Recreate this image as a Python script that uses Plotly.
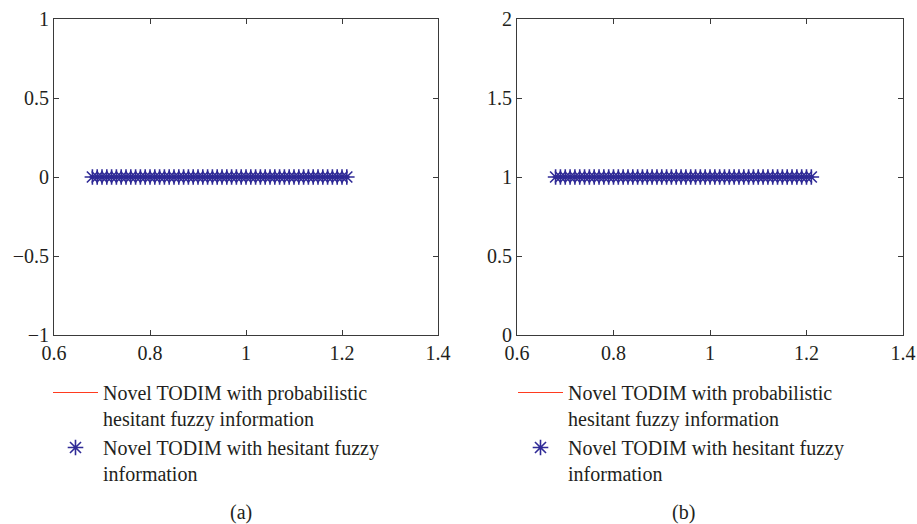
import plotly.graph_objects as go

# Alternatives' scores (x) and the resulting rankings (y) for both methods
x_scores = [0.68, 0.69, 0.70, 0.71, 0.72, 0.73, 0.74, 0.75, 0.76, 0.77,
            0.78, 0.79, 0.80, 0.81, 0.82, 0.83, 0.84, 0.85, 0.86, 0.87,
            0.88, 0.89, 0.90, 0.91, 0.92, 0.93, 0.94, 0.95, 0.96, 0.97,
            0.98, 0.99, 1.00, 1.01, 1.02, 1.03, 1.04, 1.05, 1.06, 1.07,
            1.08, 1.09, 1.10, 1.11, 1.12, 1.13, 1.14, 1.15, 1.16, 1.17,
            1.18, 1.19, 1.20, 1.21]
y_panel_a = [0, 0, 0, 0, 0, 0, 0, 0, 0, 0, 0, 0, 0, 0, 0, 0, 0, 0,
             0, 0, 0, 0, 0, 0, 0, 0, 0, 0, 0, 0, 0, 0, 0, 0, 0, 0,
             0, 0, 0, 0, 0, 0, 0, 0, 0, 0, 0, 0, 0, 0, 0, 0, 0, 0]
y_panel_b = [1, 1, 1, 1, 1, 1, 1, 1, 1, 1, 1, 1, 1, 1, 1, 1, 1, 1,
             1, 1, 1, 1, 1, 1, 1, 1, 1, 1, 1, 1, 1, 1, 1, 1, 1, 1,
             1, 1, 1, 1, 1, 1, 1, 1, 1, 1, 1, 1, 1, 1, 1, 1, 1, 1]

x_ticks = [0.6, 0.8, 1.0, 1.2, 1.4]
x_tick_text = ["0.6", "0.8", "1", "1.2", "1.4"]
y_ticks_a = [-1, -0.5, 0, 0.5, 1]
y_tick_text_a = ["\u22121", "\u22120.5", "0", "0.5", "1"]
y_ticks_b = [0, 0.5, 1, 1.5, 2]
y_tick_text_b = ["0", "0.5", "1", "1.5", "2"]

name_line = "Novel TODIM with probabilistic<br>hesitant fuzzy information"
name_star = "Novel TODIM with hesitant fuzzy<br>information"

LINE_RED = "#ff3b1f"
STAR_BLUE = "#2f2a96"
TEXT = "#231f20"
AXIS = "#3a3a3a"
FONT = "Liberation Serif"

W, H = 917, 524

fig = go.Figure()

for xa, ya, yvals, leg in [("x", "y", y_panel_a, "legend"),
                           ("x2", "y2", y_panel_b, "legend2")]:
    fig.add_trace(go.Scatter(
        x=x_scores, y=yvals, xaxis=xa, yaxis=ya, mode="lines",
        line=dict(color=LINE_RED, width=1), name=name_line, legend=leg))
    fig.add_trace(go.Scatter(
        x=x_scores, y=yvals, xaxis=xa, yaxis=ya, mode="markers",
        marker=dict(symbol="asterisk-open", size=13, color=STAR_BLUE,
                    line=dict(color=STAR_BLUE, width=1.6)),
        name=name_star, legend=leg))

axis_common = dict(
    showline=True, linecolor=AXIS, linewidth=1, mirror="ticks",
    ticks="inside", ticklen=5, tickcolor=AXIS, tickwidth=1,
    showgrid=False, zeroline=False,
    tickfont=dict(family=FONT, size=20, color=TEXT),
)

y_dom = [1 - 335 / H, 1 - 19 / H]
legend_font = dict(family=FONT, size=20, color=TEXT)

fig.update_layout(
    width=W, height=H,
    margin=dict(l=0, r=0, t=0, b=0, autoexpand=False),
    paper_bgcolor="white", plot_bgcolor="white",
    showlegend=True,
    xaxis=dict(domain=[54 / W, 438 / W], range=[0.6, 1.4],
               tickvals=x_ticks, ticktext=x_tick_text, anchor="y",
               **axis_common),
    yaxis=dict(domain=y_dom, range=[-1, 1], tickvals=y_ticks_a,
               ticktext=y_tick_text_a, anchor="x", **axis_common),
    xaxis2=dict(domain=[517 / W, 903 / W], range=[0.6, 1.4],
                tickvals=x_ticks, ticktext=x_tick_text, anchor="y2",
                **axis_common),
    yaxis2=dict(domain=y_dom, range=[0, 2], tickvals=y_ticks_b,
                ticktext=y_tick_text_b, anchor="x2", **axis_common),
    legend=dict(x=48 / W, y=1 - 373 / H, xanchor="left", yanchor="top",
                valign="top", font=legend_font,
                bgcolor="rgba(0,0,0,0)", tracegroupgap=0, itemwidth=45),
    legend2=dict(x=513 / W, y=1 - 373 / H, xanchor="left", yanchor="top",
                 valign="top", font=legend_font,
                 bgcolor="rgba(0,0,0,0)", tracegroupgap=0, itemwidth=45),
    annotations=[
        dict(text="(a)", x=228 / W, y=1 - 512 / H, xref="paper",
             yref="paper", showarrow=False, yanchor="middle",
             font=dict(family=FONT, size=20, color=TEXT)),
        dict(text="(b)", x=697 / W, y=1 - 512 / H, xref="paper",
             yref="paper", showarrow=False, yanchor="middle",
             font=dict(family=FONT, size=20, color=TEXT)),
    ],
)

fig.write_html("out.html")
